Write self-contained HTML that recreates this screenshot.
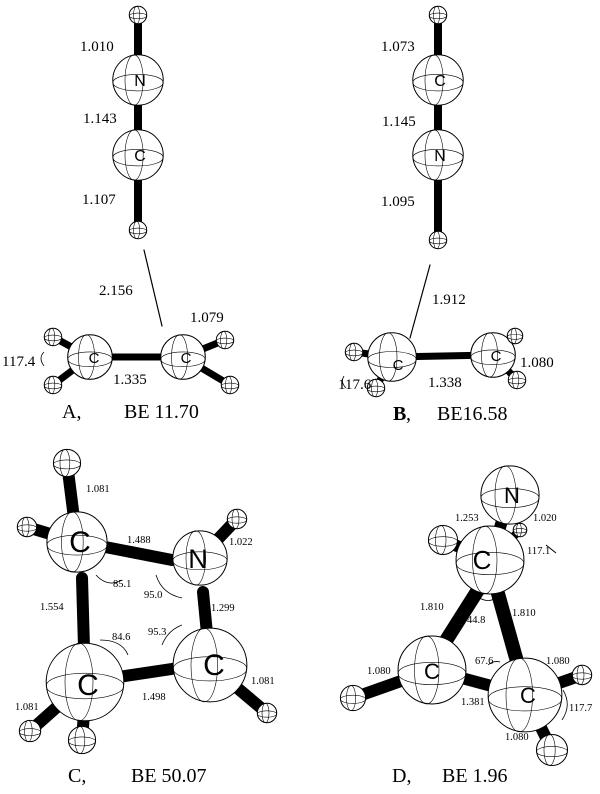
<!DOCTYPE html>
<html><head><meta charset="utf-8"><style>
html,body{margin:0;padding:0;background:#fff}
svg{display:block}
text{font-family:"Liberation Serif",serif;fill:#000}
.s{font-size:10.5px}
.m{font-size:15px}
g.a text{font-family:"Liberation Sans",sans-serif}
.cap{font-size:20px}
</style></head><body>
<svg width="600" height="794" viewBox="0 0 600 794" xmlns="http://www.w3.org/2000/svg">
<defs>
<symbol id="at" viewBox="-1 -1 2 2" overflow="visible">
<circle r="0.97" fill="#fff" stroke="#000" stroke-width="1" vector-effect="non-scaling-stroke"/>
<ellipse rx="0.97" ry="0.32" cy="0.1" fill="none" stroke="#000" stroke-width="0.6" vector-effect="non-scaling-stroke"/>
<ellipse rx="0.35" ry="0.97" cx="-0.15" fill="none" stroke="#000" stroke-width="0.6" vector-effect="non-scaling-stroke"/>
</symbol>
</defs>
<g stroke="#000" stroke-linecap="round">
<line x1="138" y1="15" x2="138" y2="230" stroke-width="8"/>
<line x1="90" y1="357" x2="183" y2="357" stroke-width="7"/>
<line x1="90" y1="357" x2="53" y2="337" stroke-width="7"/>
<line x1="90" y1="357" x2="53" y2="385" stroke-width="7"/>
<line x1="183" y1="357" x2="225" y2="340" stroke-width="7"/>
<line x1="183" y1="357" x2="230" y2="385" stroke-width="7"/>
<line x1="144" y1="250" x2="162" y2="326" stroke-width="1.2"/>
<line x1="438" y1="15" x2="438" y2="240" stroke-width="8"/>
<line x1="392" y1="357" x2="493" y2="355" stroke-width="7"/>
<line x1="392" y1="357" x2="354" y2="352" stroke-width="7"/>
<line x1="392" y1="357" x2="376" y2="388" stroke-width="7"/>
<line x1="493" y1="355" x2="515" y2="336" stroke-width="7"/>
<line x1="493" y1="355" x2="517" y2="380" stroke-width="7"/>
<line x1="430" y1="265" x2="410" y2="338" stroke-width="1.2"/>
<line x1="77" y1="542" x2="67" y2="463" stroke-width="12"/>
<line x1="77" y1="542" x2="27" y2="527" stroke-width="12"/>
<line x1="100" y1="546" x2="172" y2="560" stroke-width="12"/>
<line x1="82" y1="578" x2="85" y2="682" stroke-width="12"/>
<line x1="200" y1="558" x2="237" y2="519" stroke-width="12"/>
<line x1="203" y1="592" x2="210" y2="665" stroke-width="12"/>
<line x1="85" y1="682" x2="185" y2="667" stroke-width="12"/>
<line x1="85" y1="682" x2="30" y2="731" stroke-width="12"/>
<line x1="85" y1="700" x2="82" y2="740" stroke-width="12"/>
<line x1="210" y1="665" x2="267" y2="713" stroke-width="12"/>
<line x1="510" y1="495" x2="490" y2="560" stroke-width="12"/>
<line x1="490" y1="560" x2="443" y2="540" stroke-width="12"/>
<line x1="490" y1="560" x2="520" y2="530" stroke-width="8"/>
<line x1="478" y1="590" x2="440" y2="650" stroke-width="14"/>
<line x1="497" y1="590" x2="518" y2="665" stroke-width="14"/>
<line x1="432" y1="670" x2="525" y2="695" stroke-width="12"/>
<line x1="432" y1="670" x2="353" y2="698" stroke-width="12"/>
<line x1="525" y1="695" x2="582" y2="675" stroke-width="12"/>
<line x1="525" y1="695" x2="552" y2="750" stroke-width="12"/>
</g>
<use href="#at" x="129" y="6" width="18" height="18"/>
<use href="#at" x="112" y="54" width="52" height="52"/>
<use href="#at" x="112" y="129" width="52" height="52"/>
<use href="#at" x="129" y="221" width="18" height="18"/>
<use href="#at" x="67" y="334" width="46" height="46"/>
<use href="#at" x="160" y="334" width="46" height="46"/>
<use href="#at" x="44" y="328" width="18" height="18"/>
<use href="#at" x="44" y="376" width="18" height="18"/>
<use href="#at" x="216" y="331" width="18" height="18"/>
<use href="#at" x="221" y="376" width="18" height="18"/>
<use href="#at" x="429" y="6" width="18" height="18"/>
<use href="#at" x="412" y="54" width="52" height="52"/>
<use href="#at" x="412" y="129" width="52" height="52"/>
<use href="#at" x="429" y="231" width="18" height="18"/>
<use href="#at" x="345" y="343" width="18" height="18"/>
<use href="#at" x="367" y="379" width="18" height="18"/>
<use href="#at" x="367" y="332" width="50" height="50"/>
<use href="#at" x="470" y="332" width="46" height="46"/>
<use href="#at" x="507" y="328" width="16" height="16"/>
<use href="#at" x="508" y="371" width="18" height="18"/>
<use href="#at" x="53" y="449" width="28" height="28"/>
<use href="#at" x="17" y="517" width="20" height="20"/>
<use href="#at" x="227" y="509" width="20" height="20"/>
<use href="#at" x="46" y="511" width="62" height="62"/>
<use href="#at" x="172" y="530" width="56" height="56"/>
<use href="#at" x="172" y="627" width="76" height="76"/>
<use href="#at" x="45" y="642" width="80" height="80"/>
<use href="#at" x="19" y="720" width="22" height="22"/>
<use href="#at" x="68" y="726" width="28" height="28"/>
<use href="#at" x="257" y="703" width="20" height="20"/>
<use href="#at" x="480" y="465" width="60" height="60"/>
<use href="#at" x="513" y="523" width="14" height="14"/>
<use href="#at" x="428" y="525" width="30" height="30"/>
<use href="#at" x="455" y="525" width="70" height="70"/>
<use href="#at" x="397" y="635" width="70" height="70"/>
<use href="#at" x="340" y="685" width="26" height="26"/>
<use href="#at" x="487" y="657" width="76" height="76"/>
<use href="#at" x="572" y="665" width="20" height="20"/>
<use href="#at" x="536" y="734" width="32" height="32"/>
<g class="a" text-anchor="middle">
<text x="140" y="86" font-size="16">N</text>
<text x="140" y="161" font-size="16">C</text>
<text x="94" y="363" font-size="15">C</text>
<text x="186" y="363" font-size="15">C</text>
<text x="440" y="86" font-size="16">C</text>
<text x="440" y="161" font-size="16">N</text>
<text x="398" y="370" font-size="15">C</text>
<text x="496" y="361" font-size="15">C</text>
<text x="80" y="552" font-size="30">C</text>
<text x="198" y="568" font-size="27">N</text>
<text x="88" y="695" font-size="30">C</text>
<text x="214" y="675" font-size="30">C</text>
<text x="512" y="503" font-size="22">N</text>
<text x="482" y="569" font-size="26">C</text>
<text x="432" y="679" font-size="22">C</text>
<text x="528" y="703" font-size="22">C</text>
</g>
<g fill="none" stroke="#000" stroke-width="0.8">
<path d="M44 352 Q38 358 44 366"/>
<path d="M344 376 Q340 382 346 388"/>
<path d="M96 575 Q108 588 122 580"/>
<path d="M156 575 Q162 594 182 598"/>
<path d="M162 645 Q168 630 182 625"/>
<path d="M100 640 Q122 640 128 655"/>
<path d="M478 597 Q488 604 498 597"/>
<path d="M488 665 Q494 660 500 662"/>
<path d="M563 690 Q572 705 562 720"/>
<path d="M556 553 L546 545" stroke-width="1"/>
</g>
<g class="m">
<text x="80" y="51">1.010</text>
<text x="83" y="123">1.143</text>
<text x="82" y="204">1.107</text>
<text x="99" y="295">2.156</text>
<text x="190" y="322">1.079</text>
<text x="2" y="366">117.4</text>
<text x="113" y="384">1.335</text>
<text x="381" y="51">1.073</text>
<text x="382" y="126">1.145</text>
<text x="381" y="206">1.095</text>
<text x="432" y="304">1.912</text>
<text x="338" y="389">117.6</text>
<text x="428" y="387">1.338</text>
<text x="520" y="367">1.080</text>
</g>
<g class="s">
<text x="86" y="492">1.081</text>
<text x="127" y="543">1.488</text>
<text x="229" y="545">1.022</text>
<text x="113" y="587">85.1</text>
<text x="144" y="598">95.0</text>
<text x="40" y="610">1.554</text>
<text x="211" y="611">1.299</text>
<text x="148" y="635">95.3</text>
<text x="112" y="640">84.6</text>
<text x="142" y="700">1.498</text>
<text x="251" y="684">1.081</text>
<text x="15" y="710">1.081</text>
<text x="455" y="521">1.253</text>
<text x="533" y="521">1.020</text>
<text x="527" y="554">117.1</text>
<text x="420" y="610">1.810</text>
<text x="467" y="623">44.8</text>
<text x="512" y="616">1.810</text>
<text x="475" y="664">67.6</text>
<text x="367" y="674">1.080</text>
<text x="546" y="664">1.080</text>
<text x="461" y="705">1.381</text>
<text x="569" y="711">117.7</text>
<text x="505" y="740">1.080</text>
</g>
<g class="cap">
<text x="62" y="418">A,</text><text x="124" y="418">BE 11.70</text>
<text x="393" y="420" font-weight="bold">B</text><text x="406" y="420">,</text><text x="437" y="420">BE16.58</text>
<text x="68" y="782">C,</text><text x="131" y="782">BE 50.07</text>
<text x="392" y="782">D,</text><text x="442" y="782">BE 1.96</text>
</g>
</svg>
</body></html>
